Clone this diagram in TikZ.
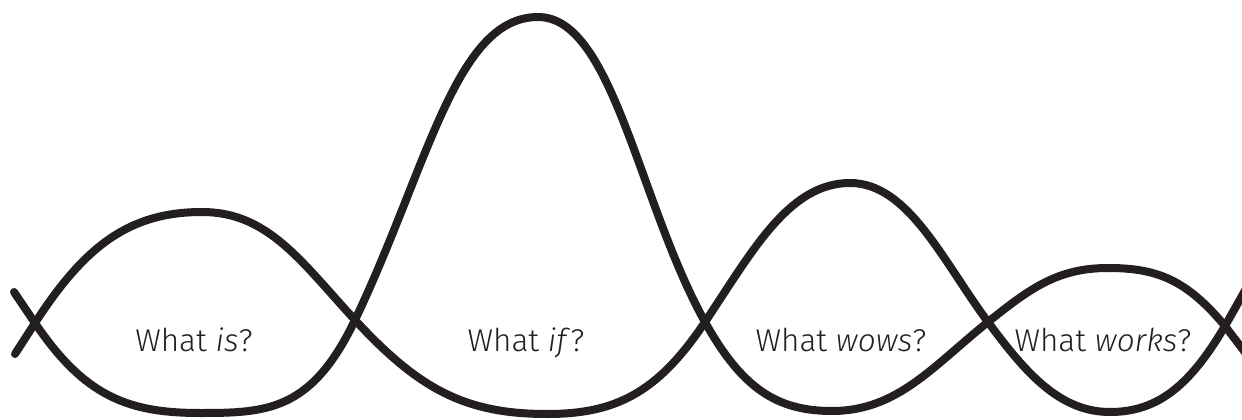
\documentclass[tikz,border=0pt]{standalone}
\usepackage{fontspec}
\newfontfamily\lblfont{Fira Sans Light}[ItalicFont={Fira Sans Light Italic}]
\definecolor{ink}{HTML}{231F20}
\begin{document}
\begin{tikzpicture}[x=1pt,y=-1pt,
  wave/.style={draw=ink,line width=8pt,line cap=round,line join=round},
  lbl/.style={anchor=base,text=ink,font=\lblfont\fontsize{31.5}{36}\selectfont,inner sep=0pt}]
\useasboundingbox (0,0) rectangle (1242,420);
% first wave: dips under "What is?", rises over "What if?"
\draw[wave] (14,292) -- (35,323)
  .. controls (84.5,396.3) and (128,413) .. (200,413)
  .. controls (267,413) and (311.6,411) .. (355,320)
  .. controls (428.2,166.3) and (455.6,17) .. (538,17)
  .. controls (613,17) and (638.2,201.8) .. (705,322)
  .. controls (742.5,389.5) and (778,411) .. (832,411)
  .. controls (897.5,411) and (933.4,365.7) .. (988,322)
  .. controls (1030,288.4) and (1057.6,268) .. (1108,268)
  .. controls (1157,268) and (1186.4,279.7) .. (1225,326)
  -- (1247,355);
% second wave: arches over "What is?", dips under "What if?"
\draw[wave] (15,354) -- (35,323)
  .. controls (85.1,245.3) and (129.9,212) .. (202,212)
  .. controls (268.3,212) and (301.5,262.1) .. (355,320)
  .. controls (418.4,388.5) and (464.4,414) .. (547,414)
  .. controls (615.4,414) and (657.6,393) .. (705,322)
  .. controls (752.9,250.2) and (789.1,183) .. (850,183)
  .. controls (908,183) and (942.5,260.6) .. (988,322)
  .. controls (1024.6,371.4) and (1058.8,412) .. (1110,412)
  .. controls (1158.3,412) and (1190.5,384.7) .. (1225,326)
  -- (1247,287);
\node[lbl] (is)    at (194,351)  {What \textit{is}?};
\node[lbl] (if)    at (526,351)  {What \textit{if}?};
\node[lbl] (wows)  at (841,351)  {What \textit{wows}?};
\node[lbl] (works) at (1103,351) {What \textit{works}?};
\end{tikzpicture}
\end{document}
